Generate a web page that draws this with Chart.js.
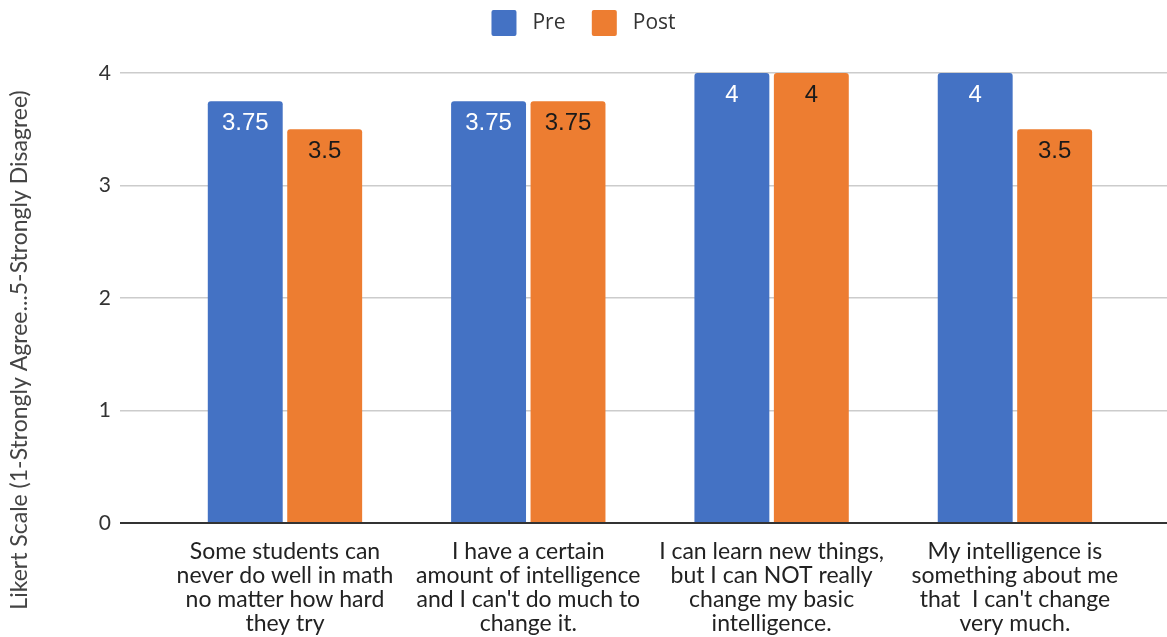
<!DOCTYPE html>
<html>
<head>
<meta charset="utf-8">
<script src="https://cdn.jsdelivr.net/npm/chart.js@4.4.1/dist/chart.umd.min.js"></script>
<style>
  html, body { margin: 0; padding: 0; background: #fff; }
  #wrap { width: 1167px; height: 637px; }
</style>
</head>
<body>
<div id="wrap"><canvas id="c" width="1167" height="637"></canvas></div>
<script>
const categories = [
  ["Some students can", "never do well in math", "no matter how hard", "they try"],
  ["I have a certain", "amount of intelligence", "and I can't do much to", "change it."],
  ["I can learn new things,", "but I can NOT really", "change my basic", "intelligence."],
  ["My intelligence is", "something about me", "that  I can't change", "very much."]
];
const preValues = [3.75, 3.75, 4, 4];
const postValues = [3.5, 3.75, 4, 3.5];
const yTicks = [0, 1, 2, 3, 4];
const seriesNames = ["Pre", "Post"];
const axisTitle = "Likert Scale (1-Strongly Agree...5-Strongly Disagree)";

const AXIS_FONT = "Lato, 'Open Sans', sans-serif";

const valueLabels = {
  id: 'valueLabels',
  afterDatasetsDraw(chart) {
    const ctx = chart.ctx;
    ctx.save();
    ctx.font = "24px 'Liberation Sans', Arial, sans-serif";
    ctx.textAlign = 'center';
    ctx.textBaseline = 'middle';
    chart.data.datasets.forEach((ds, di) => {
      const meta = chart.getDatasetMeta(di);
      meta.data.forEach((bar, i) => {
        ctx.fillStyle = di === 0 ? '#ffffff' : '#1a1a1a';
        ctx.fillText(String(ds.data[i].y), bar.x, bar.y + 22);
      });
    });
    ctx.restore();
  }
};

const yTitle = {
  id: 'yTitle',
  afterDraw(chart) {
    const ctx = chart.ctx;
    ctx.save();
    ctx.translate(20, 350);
    ctx.rotate(-Math.PI / 2);
    ctx.font = "23px " + AXIS_FONT;
    ctx.fillStyle = '#444';
    ctx.textAlign = 'center';
    ctx.textBaseline = 'middle';
    ctx.fillText(axisTitle, 0, 0);
    ctx.restore();
  }
};

const legendSpace = {
  id: 'legendSpace',
  beforeLayout(chart) {
    const lg = chart.legend;
    if (lg && !lg._patched) {
      const f = lg.fit.bind(lg);
      lg.fit = function () { f(); this.height += 27; };
      lg._patched = true;
    }
  }
};

new Chart(document.getElementById('c'), {
  type: 'bar',
  data: {
    datasets: [
      {
        label: seriesNames[0],
        data: preValues.map((v, i) => ({ x: i, y: v })),
        backgroundColor: '#4472C4',
        borderRadius: 3,
        borderSkipped: 'start',
        categoryPercentage: 0.653,
        barPercentage: 0.943
      },
      {
        label: seriesNames[1],
        data: postValues.map((v, i) => ({ x: i, y: v })),
        backgroundColor: '#ED7D31',
        borderRadius: 3,
        borderSkipped: 'start',
        categoryPercentage: 0.653,
        barPercentage: 0.943
      }
    ]
  },
  options: {
    responsive: false,
    animation: false,
    maintainAspectRatio: false,
    layout: { padding: { top: 0, right: 0, bottom: 0, left: 0 } },
    plugins: {
      legend: {
        display: true,
        position: 'top',
        labels: {
          font: { family: "'Open Sans', sans-serif", size: 21 },
          color: '#333',
          boxWidth: 25,
          boxHeight: 26,
          useBorderRadius: true,
          borderRadius: 2,
          padding: 10,
          generateLabels(chart) {
            const items = Chart.defaults.plugins.legend.labels.generateLabels(chart);
            return items.map((it, i) => Object.assign(it, {
              text: ' ' + it.text + (i < items.length - 1 ? '   ' : '')
            }));
          }
        }
      },
      tooltip: { enabled: false }
    },
    scales: {
      x: {
        type: 'linear',
        offset: false,
        min: -0.678,
        max: 3.625,
        grid: { display: false, offset: false },
        border: { display: false },
        afterBuildTicks(scale) {
          scale.ticks = categories.map((_, i) => ({ value: i }));
        },
        afterFit(scale) { scale.height = 114; },
        ticks: {
          autoSkip: false,
          maxRotation: 0,
          padding: 8,
          color: '#222',
          font: { family: AXIS_FONT, size: 23, lineHeight: 1.055 },
          callback: (v) => categories[v] || ''
        }
      },
      y: {
        min: 0,
        max: 4,
        afterBuildTicks(scale) {
          scale.ticks = yTicks.map(v => ({ value: v }));
        },
        afterFit(scale) { scale.width = 120; },
        border: { display: false },
        grid: {
          drawTicks: false,
          color: (c) => c.tick && c.tick.value === 0 ? '#333333' : '#cccccc',
          lineWidth: (c) => c.tick && c.tick.value === 0 ? 2 : 1.5
        },
        ticks: {
          padding: 9,
          color: '#333',
          font: { family: AXIS_FONT, size: 21 }
        },
        title: { display: false }
      }
    }
  },
  plugins: [valueLabels, yTitle, legendSpace]
});
</script>
</body>
</html>
